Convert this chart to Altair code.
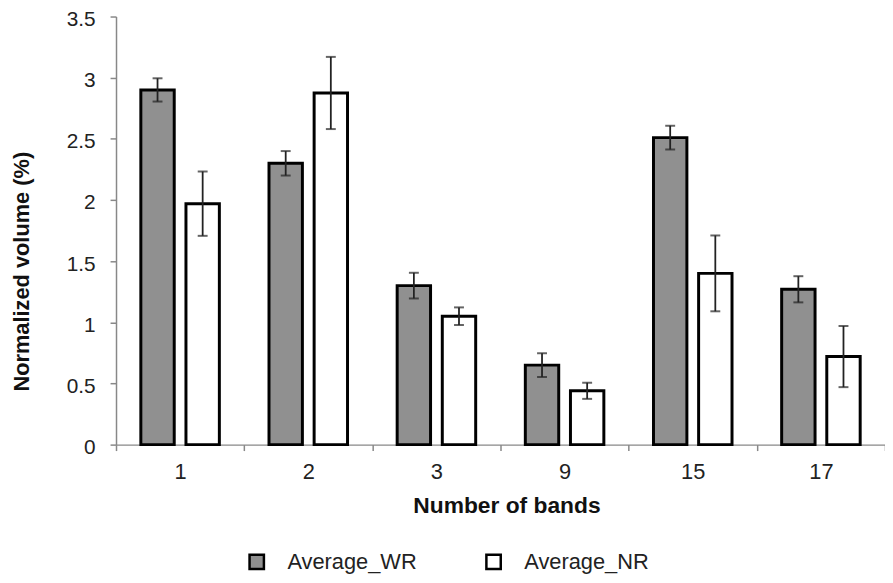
import altair as alt
import pandas as pd

categories = ["1", "2", "3", "9", "15", "17"]
series_names = ["Average_WR", "Average_NR"]
wr_values = [2.90, 2.30, 1.30, 0.65, 2.51, 1.27]
wr_errors = [0.095, 0.10, 0.105, 0.097, 0.097, 0.107]
nr_values = [1.97, 2.875, 1.05, 0.44, 1.40, 0.72]
nr_errors = [0.263, 0.295, 0.072, 0.066, 0.31, 0.25]
y_ticks = [0, 0.5, 1, 1.5, 2, 2.5, 3, 3.5]

rows = []
for c, v, e in zip(categories, wr_values, wr_errors):
    rows.append({"band": c, "series": series_names[0], "value": v, "lo": v - e, "hi": v + e})
for c, v, e in zip(categories, nr_values, nr_errors):
    rows.append({"band": c, "series": series_names[1], "value": v, "lo": v - e, "hi": v + e})
df = pd.DataFrame(rows)

FONT = "Liberation Sans"

x_enc = alt.X(
    "band:N",
    sort=categories,
    scale=alt.Scale(paddingInner=0, paddingOuter=0),
    axis=alt.Axis(
        title="Number of bands",
        titleFont=FONT, titleFontSize=23, titleFontWeight="bold", titleColor="#111",
        titleX=394, titleY=62, titleBaseline="middle",
        labelFont=FONT, labelFontSize=22, labelColor="#222", labelAngle=0,
        labelPadding=11,
        tickBand="extent", tickSize=6, tickColor="#888", domainColor="#888",
        domainWidth=1.5, tickWidth=1.5,
    ),
)
xoff = alt.XOffset(
    "series:N",
    sort=series_names,
    scale=alt.Scale(paddingInner=0.26, paddingOuter=0.55),
)
y_scale = alt.Scale(domain=[0, 3.5], nice=False)

bars = alt.Chart(df).mark_bar(stroke="black", strokeWidth=3).encode(
    x=x_enc,
    xOffset=xoff,
    y=alt.Y(
        "value:Q",
        scale=y_scale,
        axis=alt.Axis(
            title="Normalized volume (%)",
            titleFont=FONT, titleFontSize=22, titleFontWeight="bold", titleColor="#111",
            titleX=-95, titleY=257, titleAngle=270, titleAlign="center", titleBaseline="middle",
            values=y_ticks, format="~g",
            labelFont=FONT, labelFontSize=21, labelColor="#222", labelPadding=15,
            labelOffset=3,
            grid=False, tickSize=6, tickColor="#888", domainColor="#888",
            domainWidth=1.5, tickWidth=1.5,
        ),
    ),
    color=alt.Color(
        "series:N",
        sort=series_names,
        scale=alt.Scale(domain=series_names, range=["#909090", "#ffffff"]),
        legend=alt.Legend(
            title=None, orient="none", direction="horizontal",
            legendX=131, legendY=539,
            symbolType="square", symbolSize=210, symbolStrokeColor="black",
            symbolStrokeWidth=2.5, symbolOpacity=1,
            labelFont=FONT, labelFontSize=22, labelColor="#222",
            labelOffset=20, columnPadding=64, padding=0,
        ),
    ),
)

whiskers = alt.Chart(df).mark_rule(color="#222", strokeWidth=1.8).encode(
    x=alt.X("band:N", sort=categories),
    xOffset=alt.XOffset("series:N", sort=series_names),
    y=alt.Y("lo:Q", scale=y_scale),
    y2="hi:Q",
)
caps_lo = alt.Chart(df).mark_tick(color="#222", size=10, thickness=2).encode(
    x=alt.X("band:N", sort=categories),
    xOffset=alt.XOffset("series:N", sort=series_names),
    y=alt.Y("lo:Q", scale=y_scale),
)
caps_hi = alt.Chart(df).mark_tick(color="#222", size=10, thickness=2).encode(
    x=alt.X("band:N", sort=categories),
    xOffset=alt.XOffset("series:N", sort=series_names),
    y=alt.Y("hi:Q", scale=y_scale),
)

chart = alt.layer(bars, whiskers, caps_lo, caps_hi).properties(
    width=776,
    height=432,
    autosize=alt.AutoSizeParams(type="none"),
    padding={"left": 109, "top": 6, "right": 0, "bottom": 134},
    background="white",
).configure_view(stroke=None)

chart.save("out.html", embed_options={"renderer": "svg", "actions": False})
